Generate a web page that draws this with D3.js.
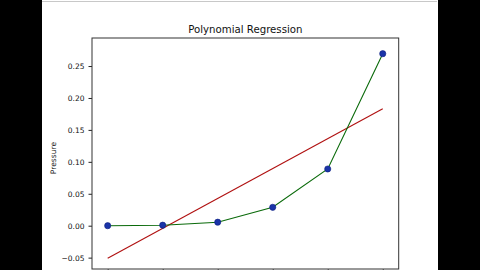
<!DOCTYPE html>
<html><head><meta charset="utf-8">
<script src="https://cdn.jsdelivr.net/npm/d3@7"></script>
<style>html,body{margin:0;padding:0;background:#000;overflow:hidden}</style>
</head><body>
<script>
const title = "Polynomial Regression";
const yLabel = "Pressure";
const xValues = [0, 1, 2, 3, 4, 5];
const pressure = [0.000, 0.0008, 0.0055, 0.0288, 0.0888, 0.2693];
const fitX = [0, 5];
const fitY = [-0.0511, 0.1830];
const yTicks = [-0.05, 0.00, 0.05, 0.10, 0.15, 0.20, 0.25];

const W = 480, H = 270;
const svg = d3.select("body").append("svg").attr("width", W).attr("height", H);
svg.append("rect").attr("width", W).attr("height", H).attr("fill", "#000");
svg.append("rect").attr("x", 42).attr("y", 0).attr("width", 396).attr("height", H).attr("fill", "#fff");
svg.append("line").attr("x1", 42).attr("x2", 437).attr("y1", 1.5).attr("y2", 1.5).attr("stroke", "#c8c8c8").attr("stroke-width", 1);

const L = 92, R = 398.7, T = 38, B = 269;
const x = d3.scaleLinear().domain([-0.285, 5.29]).range([L, R]);
const y = d3.scaleLinear().domain([-0.0678, 0.2939]).range([B, T]);

const g = svg.append("g");

// y axis
const ya = g.append("g").attr("transform", `translate(${L},0)`)
  .call(d3.axisLeft(y).tickValues(yTicks).tickSize(3.5).tickPadding(4)
    .tickFormat(d => (d < 0 ? "\u22120" : "") + (d < 0 ? d3.format(".2f")(-d).slice(1) : d3.format(".2f")(d))));
ya.select(".domain").remove();
ya.selectAll("line").attr("stroke", "#222");
ya.selectAll("text").attr("font-family", "DejaVu Sans").attr("font-size", 7.5).attr("fill", "#111");

// x axis (ticks mostly cut off)
const xa = g.append("g").attr("transform", `translate(0,${B})`)
  .call(d3.axisBottom(x).tickValues(xValues).tickSize(2).tickFormat(""));
xa.select(".domain").remove();
xa.selectAll("line").attr("stroke", "#555");

// frame
g.append("rect").attr("x", L).attr("y", T).attr("width", R - L).attr("height", B - T)
  .attr("fill", "none").attr("stroke", "#333").attr("stroke-width", 1);

// title
g.append("text").attr("x", (L + R) / 2).attr("y", 32.5).attr("text-anchor", "middle")
  .attr("font-family", "DejaVu Sans").attr("font-size", 10.2).attr("fill", "#111").text(title);

// y label
g.append("text").attr("transform", `translate(55.5,${158}) rotate(-90)`).attr("text-anchor", "middle")
  .attr("font-family", "DejaVu Sans").attr("font-size", 7.6).attr("fill", "#111").text(yLabel);

// regression line
const fit = fitX.map((d, i) => [d, fitY[i]]);
g.append("path").datum(fit).attr("fill", "none").attr("stroke", "#b01010").attr("stroke-width", 1.1)
  .attr("d", d3.line().x(d => x(d[0])).y(d => y(d[1])));

// data line
const pts = xValues.map((d, i) => [d, pressure[i]]);
g.append("path").datum(pts).attr("fill", "none").attr("stroke", "#0a6a0a").attr("stroke-width", 1.1)
  .attr("d", d3.line().x(d => x(d[0])).y(d => y(d[1])));

g.selectAll("circle.pt").data(pts).enter().append("circle").attr("class", "pt")
  .attr("cx", d => x(d[0])).attr("cy", d => y(d[1])).attr("r", 3.1)
  .attr("fill", "#1a34a8").attr("stroke", "#0d1f80").attr("stroke-width", 0.6);
</script>
</body></html>
